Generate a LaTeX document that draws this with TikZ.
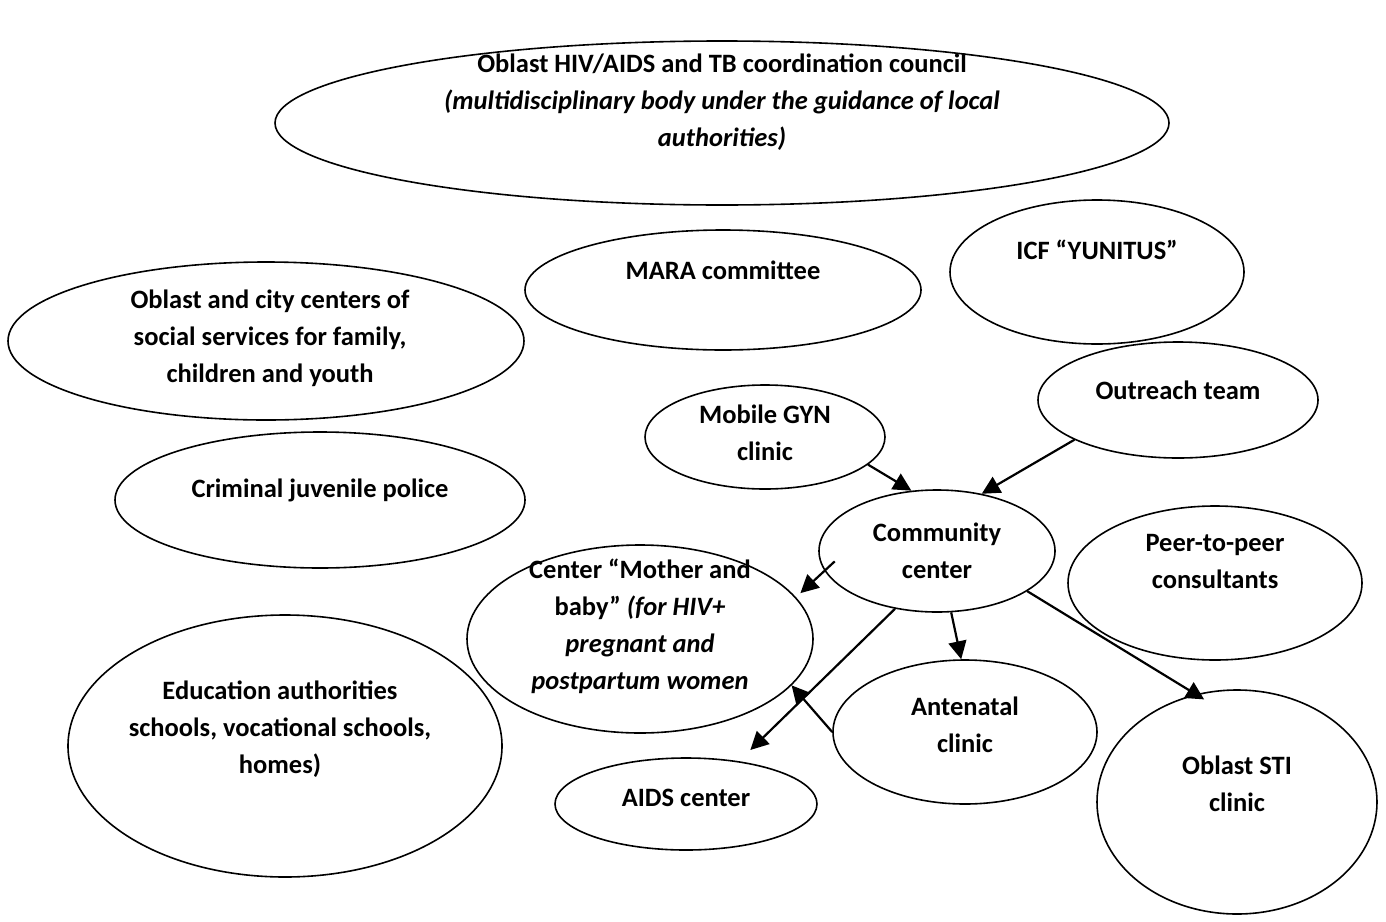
\documentclass[tikz,border=0pt]{standalone}
\usepackage{fontspec}
\setmainfont{Carlito}
\usetikzlibrary{shapes.geometric,arrows.meta}

\tikzset{
  oval/.style={draw, ellipse, line width=1.6pt, inner sep=0pt},
  txt/.style={align=center, font=\bfseries\fontsize{26.5}{37}\selectfont},
  link/.style={line width=2.2pt, -{Triangle[length=18pt,width=18pt]}},
}

\begin{document}
\begin{tikzpicture}[x=1pt, y=-1pt]
        \useasboundingbox[fill=white] (0,0) rectangle (1386,921);

        % Coordination council
        \node[oval, minimum width=894pt, minimum height=164pt] (council) at (722,123) {};
        \node[txt] (council-t) at ([yshift=21pt]council.center) {Oblast HIV/AIDS and TB coordination council\\ \textit{(multidisciplinary body under the guidance of local}\\ \textit{authorities)}};

        % Committees and partners
        \node[oval, minimum width=396pt, minimum height=120pt] (mara) at (723,290) {};
        \node[txt] (mara-t) at ([yshift=20pt]mara.center) {MARA committee};
        \node[oval, minimum width=294pt, minimum height=144pt] (icf) at (1097,272) {};
        \node[txt] (icf-t) at ([yshift=22pt]icf.center) {ICF “YUNITUS”};
        \node[oval, minimum width=516pt, minimum height=158pt] (social) at (266,341) {};
        \node[txt] (social-t) at ([xshift=4pt,yshift=3pt]social.center) {Oblast and city centers of\\ social services for family,\\ children and youth};
        \node[oval, minimum width=410pt, minimum height=136pt] (police) at (320,500) {};
        \node[txt] (police-t) at ([yshift=10pt]police.center) {Criminal juvenile police};
        \node[oval, minimum width=434pt, minimum height=262pt] (edu) at (285,746) {};
        \node[txt] (edu-t) at ([xshift=-5pt,yshift=17pt]edu.center) {Education authorities\\ schools, vocational schools,\\ homes)};

        % Services around the community center
        \node[oval, minimum width=240pt, minimum height=104pt] (gyn) at (765,437) {};
        \node[txt] (gyn-t) at ([yshift=4pt]gyn.center) {Mobile GYN\\ clinic};
        \node[oval, minimum width=280pt, minimum height=116pt] (outreach) at (1178,400) {};
        \node[txt] (outreach-t) at ([yshift=10pt]outreach.center) {Outreach team};
        \node[oval, minimum width=236pt, minimum height=122pt] (comm) at (937,551) {};
        \node[txt] (comm-t) at (comm.center) {Community\\ center};
        \node[oval, minimum width=294pt, minimum height=154pt] (peer) at (1215,583) {};
        \node[txt] (peer-t) at ([yshift=22pt]peer.center) {Peer-to-peer\\ consultants};
        \node[oval, minimum width=346pt, minimum height=188pt] (mother) at (640,639) {};
        \node[txt] (mother-t) at ([yshift=13pt]mother.center) {Center “Mother and\\ baby” \textit{(for HIV+}\\ \textit{pregnant and}\\ \textit{postpartum women}};
        \node[oval, minimum width=264pt, minimum height=144pt] (antenatal) at (965,732) {};
        \node[txt] (antenatal-t) at ([yshift=7pt]antenatal.center) {Antenatal\\ clinic};
        \node[oval, minimum width=262pt, minimum height=92pt] (aids) at (686,804) {};
        \node[txt] (aids-t) at ([yshift=6pt]aids.center) {AIDS center};
        \node[oval, minimum width=280pt, minimum height=224pt] (sti) at (1237,802) {};
        \node[txt] (sti-t) at ([yshift=18pt]sti.center) {Oblast STI\\ clinic};

        % Arrows
        \draw[link] (gyn.345) -- (comm.113);
        \draw[link] (outreach.201) -- (comm.52);
        \draw[link, shorten <=-14pt, shorten >=6pt] (comm.190) -- (mother.15);
        \draw[link, shorten >=16pt] (comm.234) -- (aids.39);
        \draw[link] (comm.283) -- (antenatal.93);
        \draw[link, shorten >=-10pt] (comm.336) -- (sti.111);
        \draw[link] (antenatal.180) -- (mother.343);
    \end{tikzpicture}
\end{document}
